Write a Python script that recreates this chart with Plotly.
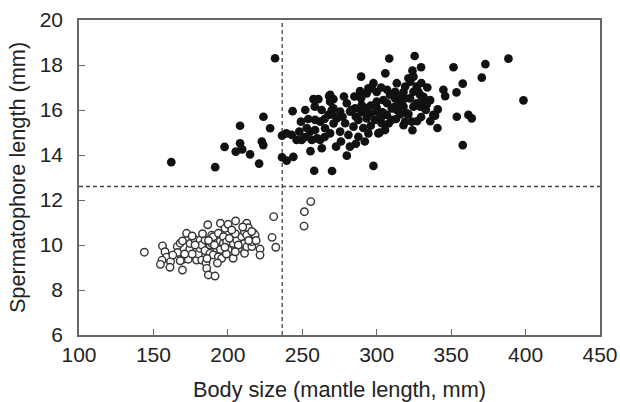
import plotly.graph_objects as go

# Filled circles: body size (mm), spermatophore length (mm)
filled_x = [162, 191.5, 197.8, 205.3, 208.2, 209.6, 208.2, 214.9, 221, 222.8, 223.8, 223.9, 228.4, 231.7,
            236.4, 239.3, 242.9, 236.4, 239.5, 244, 243.5, 249.1, 248, 249.6, 246.2, 255.2, 258.6, 258.6,
            258.4, 257.5, 260.8, 256.4, 260.1, 255.5, 258, 270, 279.9, 272.7, 282, 263.1, 262, 297.8,
            268, 270.9, 269.8, 279.9, 288.8, 294.4, 297.8, 293.3, 289.5, 305.8, 308.4, 325.5, 329.8, 324,
            313.5, 321.3, 322.6, 326.9, 328, 312.4, 309, 322.4, 331.4, 335.9, 326.9, 300, 304.5, 318,
            329.2, 313.5, 320.2, 344.8, 346, 341, 340.8, 329.8, 318, 324, 289.5, 268.7, 268.7, 270.9,
            285.5, 282.1, 275.4, 289.9, 310.1, 306.8, 300, 295.6, 293.3, 298.9, 303.3, 301.1, 305.6,
            287.7, 284.4, 278.8, 273.2, 267.5, 262, 265.3, 268.7, 275.4, 281, 287.7, 294.4, 303.3, 310.1,
            296.6, 351.6, 357.8, 353.6, 324.7, 319.1, 324.7, 329.2, 312.3, 319.1, 331.4, 312.3, 324.7,
            315.7, 321.3, 338, 319.1, 323.5, 353.8, 361.6, 357.8, 373, 388.5, 370.6, 398.6, 333.6, 330.3,
            339.2, 363.8,
            290, 292, 296, 300, 304, 307, 296, 291, 286, 283, 277, 271, 265, 263, 253, 252, 270, 302,
            308, 313, 316, 315, 333, 336, 327, 334, 330, 318, 307, 285, 278, 300, 303, 276, 286, 292,
            265, 254, 252]
filled_y = [13.68, 13.46, 14.36, 14.15, 14.52, 14.25, 15.3, 14.03, 13.62, 14.6, 14.44, 15.7, 15.19, 18.3,
            14.86, 14.96, 14.89, 13.9, 13.75, 13.92, 15.95, 15.48, 15.04, 14.67, 14.67, 15.04, 15.11, 15.56,
            16.15, 16.48, 16.48, 14.67, 14.74, 14.17, 13.3, 13.29, 13.97, 14.37, 14.37, 14.3, 14.67, 13.52,
            16.62, 16.48, 16.0, 16.3, 16.84, 16.96, 17.19, 16.74, 17.48, 17.63, 18.29, 18.4, 17.9, 17.75,
            17.19, 17.41, 17.26, 17.04, 16.81, 16.81, 16.67, 16.52, 16.59, 16.44, 16.3, 16.37, 16.44, 16.15,
            16.15, 16.0, 15.85, 16.9, 16.62, 16.03, 15.2, 15.69, 15.33, 15.1, 16.52, 16.67, 16.37, 16.07,
            16.07, 15.93, 15.93, 16.22, 16.07, 15.78, 15.93, 15.85, 15.63, 15.56, 15.41, 14.96, 15.11,
            15.56, 15.26, 15.41, 15.63, 15.78, 15.48, 15.19, 14.96, 15.04, 14.89, 14.81, 14.96, 15.7, 15.56,
            16.96, 17.9, 17.17, 16.78, 17.48, 17.04, 16.81, 16.67, 16.52, 16.52, 16.3, 16.15, 16.15,
            15.82, 15.82, 15.78, 15.48, 15.48, 15.7, 15.78, 14.44, 18.04, 18.28, 17.44, 16.43, 16.25, 16.59,
            15.75, 15.63,
            15.9, 16.1, 16.2, 16.1, 15.9, 16.3, 15.3, 15.2, 15.7, 16.0, 15.7, 15.4, 15.6, 16.0, 15.2, 14.8,
            15.8, 15.0, 15.4, 15.6, 16.3, 16.6, 16.0, 15.5, 15.5, 17.0, 17.2, 16.8, 16.9, 16.6, 16.6, 16.8,
            17.0, 14.6, 14.5, 14.6, 14.8, 15.6, 16.0]

# Open circles
open_x = [143.9, 156.1, 157.8, 158.9, 155.8, 154.7, 161.5, 161.1, 166, 166.2, 168, 169.5, 172.3, 170.2,
          169.5, 173.4, 174.3, 174.6, 177.9, 179, 180.2, 181.3, 181.3, 182.5, 182.5, 184.7, 184.7, 185.3,
          185.8, 186.5, 186.9, 188, 188, 189.2, 189.2, 190.2, 190.2, 191.4, 192.5, 193.6, 193.6, 194.8,
          195, 195.9, 197, 197, 198.1, 199.2, 200.2, 200.3, 203.6, 203.6, 205.2, 206, 207, 209.3, 211.2,
          211.2, 211.1, 212.7, 213.8, 212.7, 212.7, 216.1, 216, 217.4, 218.3, 221.6, 221.6, 230.8, 229.7,
          232.2, 255.7, 251.4, 251.2,
          176, 178, 183, 187, 191, 195, 199, 201, 205, 207, 210, 214, 186, 193, 198, 171, 176, 205, 216,
          219, 163, 168, 202.6]
open_y = [9.68, 9.96, 9.7, 9.46, 9.33, 9.14, 9.26, 9.01, 9.93, 9.67, 10.08, 10.18, 10.52, 9.37,
          8.89, 9.37, 9.8, 10.07, 10.22, 9.33, 9.6, 9.85, 10.22, 10.0, 9.33, 9.75, 10.22, 9.21,
          8.96, 10.9, 8.67, 10.0, 9.63, 10.44, 10.07, 10.37, 9.56, 8.62, 9.85, 10.52, 9.48, 10.15,
          10.97, 9.41, 10.37, 10.07, 10.74, 10.15, 10.92, 9.78, 10.07, 9.41, 11.07, 10.22, 9.85, 10.37, 10.59,
          9.63, 10.07, 10.97, 10.77, 10.44, 9.92, 9.93, 10.15, 10.52, 10.44, 9.82, 9.55, 11.26, 10.34,
          9.9, 11.93, 11.48, 10.84,
          9.6, 10.0, 10.5, 10.2, 10.0, 9.8, 9.6, 10.3, 10.5, 10.0, 10.8, 10.2, 9.4, 9.2, 9.9, 9.6, 10.4,
          9.7, 10.6, 10.2, 9.55, 9.3, 10.67]

x_threshold = 236.5
y_threshold = 12.6
x_ticks = [100, 150, 200, 250, 300, 350, 400, 450]
y_ticks = [6, 8, 10, 12, 14, 16, 18, 20]

fig = go.Figure()
fig.add_trace(go.Scatter(x=open_x, y=open_y, mode="markers",
                         marker=dict(size=7.5, color="white", line=dict(color="#333", width=1.4)),
                         showlegend=False, cliponaxis=False))
fig.add_trace(go.Scatter(x=filled_x, y=filled_y, mode="markers",
                         marker=dict(size=8.7, color="#111", line=dict(width=0)),
                         showlegend=False, cliponaxis=False))

fig.add_shape(type="line", xref="x", yref="y", x0=x_threshold, x1=x_threshold, y0=6, y1=20,
              line=dict(color="#444", width=1.3, dash="4px,3px"), layer="below")
fig.add_shape(type="line", xref="x", yref="y", x0=100, x1=450, y0=y_threshold, y1=y_threshold,
              line=dict(color="#444", width=1.3, dash="4px,3px"), layer="below")

font = "Liberation Sans, Arial, sans-serif"
fig.update_layout(
    width=620, height=402,
    margin=dict(l=79, r=20, t=20, b=67),
    plot_bgcolor="white", paper_bgcolor="white",
    font=dict(family=font, color="#222", size=21),
)
fig.update_xaxes(range=[100, 450], tickvals=x_ticks, ticks="inside", ticklen=6, tickwidth=1.3,
                 tickcolor="#666", showline=True, linecolor="#666", linewidth=1.5, mirror=True,
                 showgrid=False, zeroline=False, tickfont=dict(size=21), automargin=False,
                 title=dict(text="Body size (mantle length, mm)", font=dict(size=21.7), standoff=18))
fig.update_yaxes(range=[6, 20], tickvals=y_ticks, ticks="inside", ticklen=6, tickwidth=1.3,
                 tickcolor="#666", showline=True, linecolor="#666", linewidth=1.5, mirror=True,
                 showgrid=False, zeroline=False, tickfont=dict(size=21), ticklabelstandoff=10,
                 automargin=False,
                 title=dict(text="Spermatophore length (mm)", font=dict(size=21.7), standoff=8))

fig.write_html("out.html", config={"displayModeBar": False},
               post_script="document.body.style.margin='0';document.body.style.overflow='hidden';")
